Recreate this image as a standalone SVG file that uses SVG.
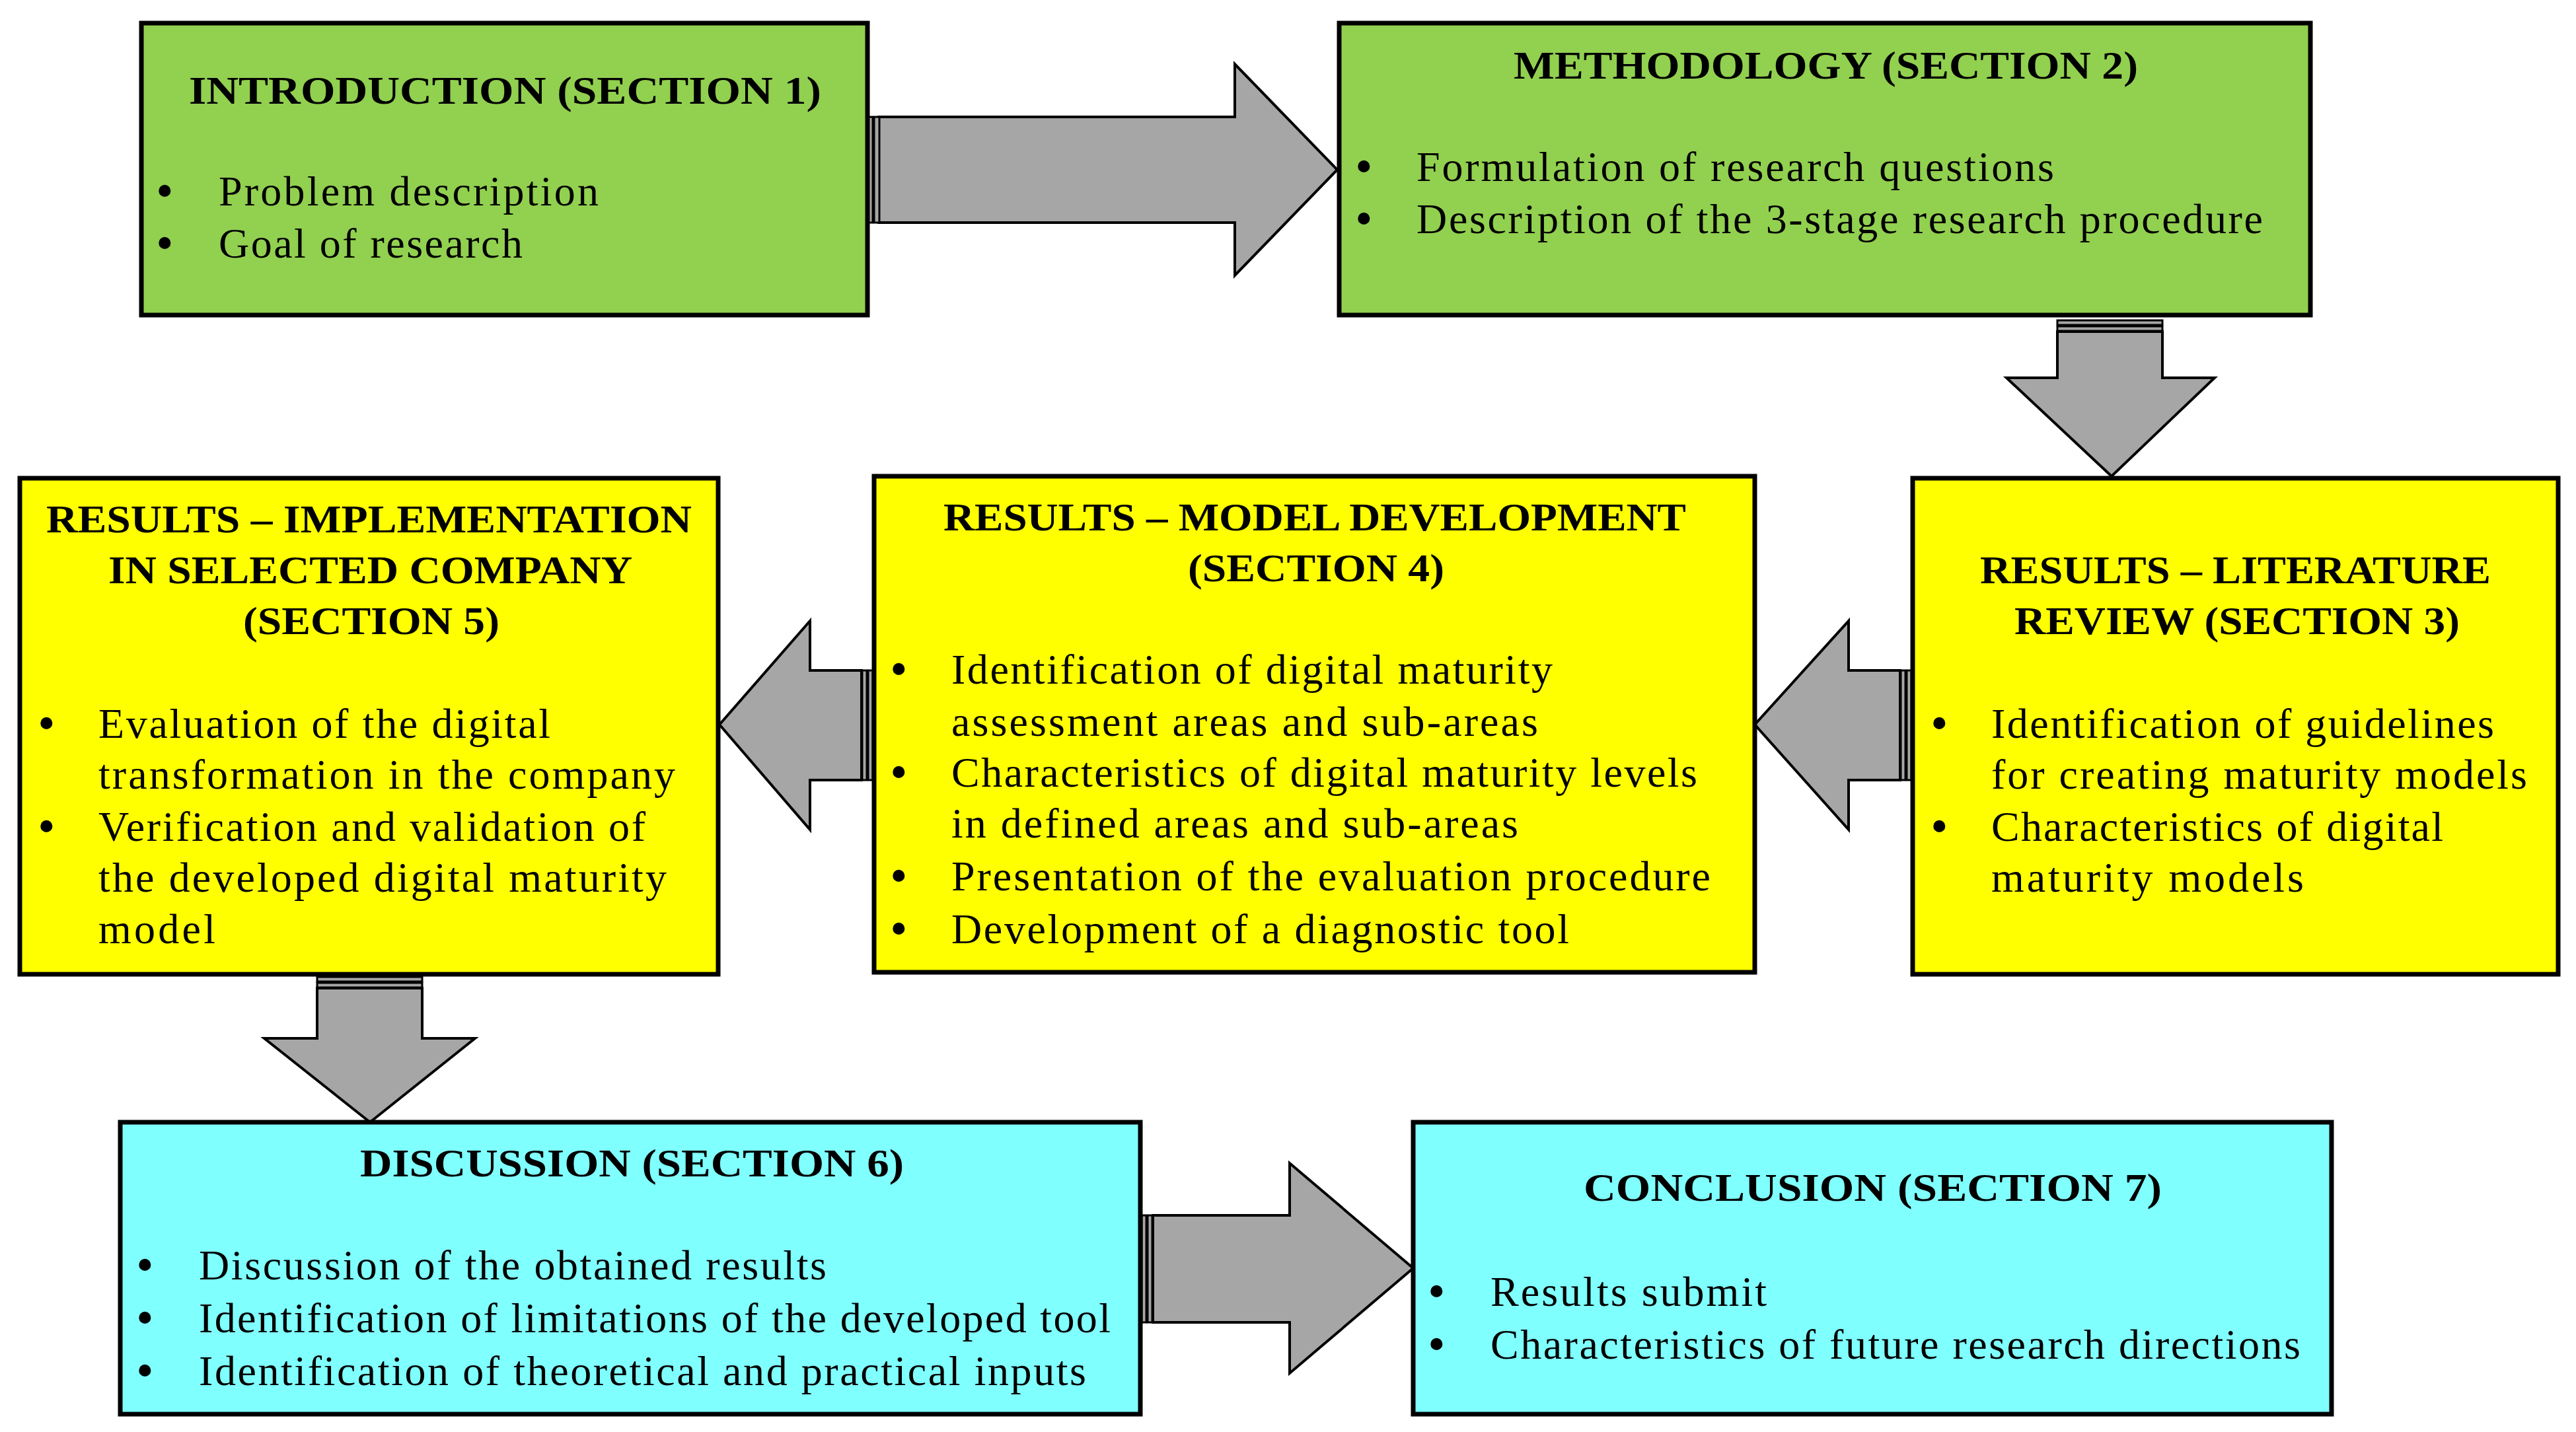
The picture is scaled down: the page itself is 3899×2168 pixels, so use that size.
<svg xmlns="http://www.w3.org/2000/svg" width="3899" height="2168" viewBox="0 0 3899 2168">
<style>
.box{stroke:#000;stroke-width:7}
.g{fill:#92D050}.y{fill:#FFFF00}.c{fill:#80FFFF}
text{font-family:"Liberation Serif",serif;font-size:64px;fill:#000}
.h{font-weight:bold;font-size:60px}
.b{font-size:76px}
.ar{fill:#A6A6A6;stroke:#000;stroke-width:4;stroke-linejoin:miter}
.st{fill:#A6A6A6;stroke:#000;stroke-width:3}
</style>
<g id="connectors">
<path class="ar" d="M1330,177 H1869 V97 L2024,257 L1869,417 V337 H1330 Z"/>
<rect class="st" x="1313" y="177" width="8" height="160"/><rect class="st" x="1323" y="177" width="8" height="160"/>
<path class="ar" d="M3114,502 H3273 V572 H3352 L3196,721 L3037,572 H3114 Z"/>
<rect class="st" x="3114" y="485" width="159" height="7"/><rect class="st" x="3114" y="494" width="159" height="7"/>
<path class="ar" d="M2876,1015 H2798 V940 L2656,1097 L2798,1256 V1181 H2876 Z"/>
<rect class="st" x="2877" y="1015" width="7" height="166"/><rect class="st" x="2886" y="1015" width="7" height="166"/>
<path class="ar" d="M1304,1015 H1226 V940 L1089,1097 L1226,1256 V1181 H1304 Z"/>
<rect class="st" x="1305" y="1015" width="7" height="166"/><rect class="st" x="1314" y="1015" width="7" height="166"/>
<path class="ar" d="M480,1496 H639 V1572 H719 L560,1699 L400,1572 H480 Z"/>
<rect class="st" x="480" y="1479" width="159" height="7"/><rect class="st" x="480" y="1488" width="159" height="7"/>
<path class="ar" d="M1745,1840 H1952 V1761 L2139,1920 L1952,2079 V2002 H1745 Z"/>
<rect class="st" x="1728" y="1840" width="7" height="162"/><rect class="st" x="1737" y="1840" width="7" height="162"/>
</g>
<g id="intro">
<rect class="box g" x="214" y="35" width="1099" height="442"/>
<text class="h" x="286" y="157" textLength="957" lengthAdjust="spacingAndGlyphs">INTRODUCTION  (SECTION 1)</text>
<text class="b" x="236" y="314">•</text><text x="331" y="311" textLength="575">Problem description</text>
<text class="b" x="236" y="393">•</text><text x="331" y="390" textLength="460">Goal of research</text>
</g>
<g id="methodology">
<rect class="box g" x="2027" y="35" width="1470" height="442"/>
<text class="h" x="2291" y="119" textLength="945" lengthAdjust="spacingAndGlyphs">METHODOLOGY (SECTION 2)</text>
<text class="b" x="2051" y="277">•</text><text x="2144" y="274" textLength="965">Formulation of research questions</text>
<text class="b" x="2051" y="356">•</text><text x="2144" y="353" textLength="1281">Description of the 3-stage research procedure</text>
</g>
<g id="literature">
<rect class="box y" x="2895" y="724" width="977" height="751"/>
<text class="h" x="2997" y="883" textLength="773" lengthAdjust="spacingAndGlyphs">RESULTS – LITERATURE</text>
<text class="h" x="3049" y="960" textLength="674" lengthAdjust="spacingAndGlyphs">REVIEW  (SECTION 3)</text>
<text class="b" x="2922" y="1120">•</text><text x="3014" y="1117" textLength="761">Identification of guidelines</text>
<text x="3014" y="1194" textLength="811">for creating maturity models</text>
<text class="b" x="2922" y="1276">•</text><text x="3014" y="1273" textLength="684">Characteristics of digital</text>
<text x="3014" y="1350" textLength="473">maturity models</text>
</g>
<g id="model">
<rect class="box y" x="1323" y="721" width="1333" height="751"/>
<text class="h" x="1428" y="803" textLength="1124" lengthAdjust="spacingAndGlyphs">RESULTS – MODEL DEVELOPMENT</text>
<text class="h" x="1798" y="880" textLength="388" lengthAdjust="spacingAndGlyphs">(SECTION 4)</text>
<text class="b" x="1347" y="1038">•</text><text x="1440" y="1035" textLength="910">Identification of digital maturity</text>
<text x="1440" y="1114" textLength="888">assessment areas and sub-areas</text>
<text class="b" x="1347" y="1194">•</text><text x="1440" y="1191" textLength="1129">Characteristics of digital maturity levels</text>
<text x="1440" y="1268" textLength="858">in defined areas and sub-areas</text>
<text class="b" x="1347" y="1351">•</text><text x="1440" y="1348" textLength="1149">Presentation of the evaluation procedure</text>
<text class="b" x="1347" y="1431">•</text><text x="1440" y="1428" textLength="935">Development of a diagnostic tool</text>
</g>
<g id="implementation">
<rect class="box y" x="30" y="724" width="1057" height="751"/>
<text class="h" x="70" y="806" textLength="977" lengthAdjust="spacingAndGlyphs">RESULTS – IMPLEMENTATION</text>
<text class="h" x="164" y="883" textLength="793" lengthAdjust="spacingAndGlyphs">IN SELECTED COMPANY</text>
<text class="h" x="368" y="960" textLength="388" lengthAdjust="spacingAndGlyphs">(SECTION 5)</text>
<text class="b" x="57" y="1120">•</text><text x="149" y="1117" textLength="684">Evaluation of the digital</text>
<text x="149" y="1194" textLength="873">transformation in the company</text>
<text class="b" x="57" y="1276">•</text><text x="149" y="1273" textLength="828">Verification and validation of</text>
<text x="149" y="1350" textLength="860">the developed digital maturity</text>
<text x="149" y="1428" textLength="177">model</text>
</g>
<g id="discussion">
<rect class="box c" x="182" y="1699" width="1544" height="442"/>
<text class="h" x="545" y="1781" textLength="823" lengthAdjust="spacingAndGlyphs">DISCUSSION (SECTION 6)</text>
<text class="b" x="206" y="1940">•</text><text x="301" y="1937" textLength="950">Discussion of the obtained results</text>
<text class="b" x="206" y="2020">•</text><text x="301" y="2017" textLength="1380">Identification of limitations of the developed tool</text>
<text class="b" x="206" y="2100">•</text><text x="301" y="2097" textLength="1343">Identification of theoretical and practical inputs</text>
</g>
<g id="conclusion">
<rect class="box c" x="2139" y="1699" width="1390" height="442"/>
<text class="h" x="2397" y="1818" textLength="875" lengthAdjust="spacingAndGlyphs">CONCLUSION  (SECTION 7)</text>
<text class="b" x="2161" y="1980">•</text><text x="2256" y="1977" textLength="418">Results submit</text>
<text class="b" x="2161" y="2060">•</text><text x="2256" y="2057" textLength="1226">Characteristics of future research directions</text>
</g>
</svg>
